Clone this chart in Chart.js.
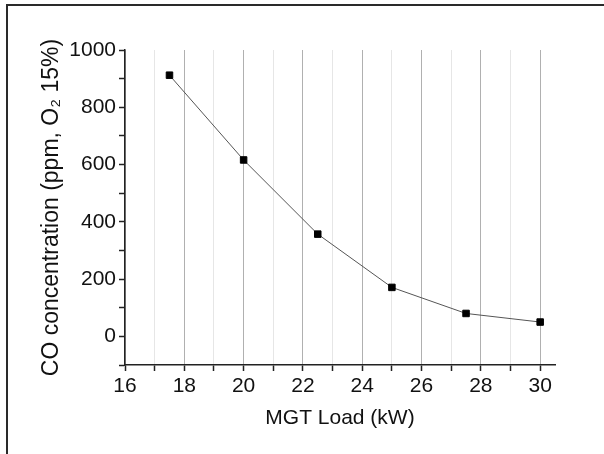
<!DOCTYPE html>
<html>
<head>
<meta charset="utf-8">
<script src="https://cdn.jsdelivr.net/npm/chart.js@4"></script>
<style>
  html, body { margin: 0; padding: 0; background: #fff; }
  #wrap { position: relative; width: 604px; height: 454px; }
  #frame {
    position: absolute; left: 6px; top: 4px; width: 598px; height: 450px;
    box-sizing: border-box; border-top: 2px solid #2a2a2a; border-left: 2px solid #2a2a2a;
    pointer-events: none;
  }
</style>
</head>
<body>
<div id="wrap">
  <canvas id="chart" width="604" height="454"></canvas>
  <div id="frame"></div>
</div>
<script>
const loads = [17.5, 20, 22.5, 25, 27.5, 30];
const coValues = [912, 616, 357, 171, 80, 50];
const xMajorTicks = [16, 18, 20, 22, 24, 26, 28, 30];
const yMajorTicks = [0, 200, 400, 600, 800, 1000];

const FONT = "'Liberation Sans', Arial, sans-serif";
const AXIS_COLOR = "#222";

new Chart(document.getElementById("chart"), {
  type: "line",
  data: {
    datasets: [
      {
        data: loads.map((x, i) => ({ x, y: coValues[i] })),
        borderColor: "#555",
        borderWidth: 1,
        tension: 0,
        pointStyle: "rect",
        pointRadius: 4.6,
        pointBackgroundColor: "#000",
        pointBorderColor: "#000",
        pointBorderWidth: 1,
      },
    ],
  },
  options: {
    responsive: false,
    animation: false,
    layout: { padding: { left: 0, top: 50, right: 49, bottom: 0 } },
    plugins: { legend: { display: false }, tooltip: { enabled: false } },
    scales: {
      x: {
        type: "linear",
        min: 16,
        max: 30.5,
        afterFit(scale) { scale.height = 89; },
        ticks: {
          stepSize: 1,
          includeBounds: false,
          autoSkip: false,
          maxRotation: 0,
          padding: 3,
          color: "#111",
          font: { family: FONT, size: 21 },
          callback: (v) => (xMajorTicks.includes(v) ? String(v) : ""),
        },
        grid: {
          drawOnChartArea: true,
          color: (ctx) => (xMajorTicks.includes(ctx.tick && ctx.tick.value) ? "#b0b0b0" : "#e6e6e6"),
          lineWidth: 1,
          tickLength: 6,
          tickColor: AXIS_COLOR,
          tickWidth: 1.5,
        },
        border: { color: AXIS_COLOR, width: 1.5 },
        title: {
          display: true,
          text: "MGT Load (kW)",
          color: "#111",
          font: { family: FONT, size: 21 },
          padding: { top: 0, bottom: 23 },
        },
      },
      y: {
        min: -100,
        max: 1000,
        afterFit(scale) { scale.width = 125; },
        ticks: {
          stepSize: 100,
          autoSkip: false,
          padding: 3,
          color: "#111",
          font: { family: FONT, size: 21 },
          callback: (v) => (yMajorTicks.includes(v) ? String(v) : ""),
        },
        grid: {
          drawOnChartArea: false,
          tickLength: 6,
          tickColor: AXIS_COLOR,
          tickWidth: 1.5,
        },
        border: { color: AXIS_COLOR, width: 1.5 },
        title: {
          display: true,
          text: "CO concentration (ppm, O\u2082 15%)",
          color: "#111",
          font: { family: FONT, size: 23 },
          padding: { top: 38, bottom: 0 },
        },
      },
    },
  },
});
</script>
</body>
</html>
